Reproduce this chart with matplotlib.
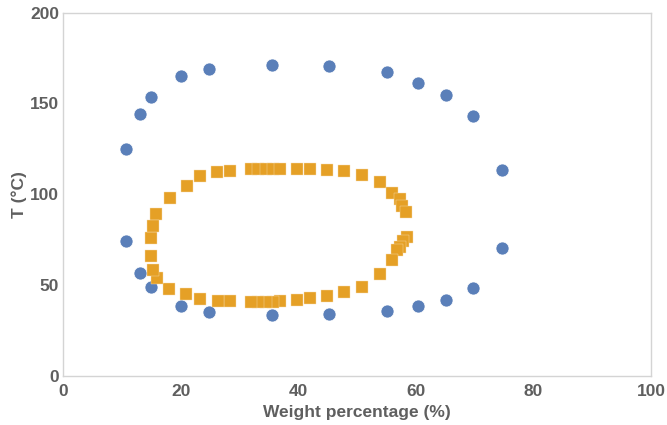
import matplotlib
matplotlib.use("Agg")
from matplotlib import pyplot as plt

# outer curve (blue circles)
blue_x = [10.7, 13.0, 14.9, 20.0, 24.8, 35.5, 45.2, 55.1, 60.3, 65.1, 69.7, 74.6,
          74.6, 69.7, 65.1, 60.3, 55.1, 45.2, 35.5, 24.8, 20.0, 14.9, 13.0, 10.7]
blue_y = [125.0, 144.3, 153.6, 165.2, 169.0, 171.3, 170.7, 167.4, 161.3, 154.8, 143.2, 113.4,
          70.5, 48.5, 41.9, 38.5, 35.8, 34.1, 33.6, 35.2, 38.5, 49.0, 56.7, 74.3]

# inner curve (orange squares)
orange_x = [15.8, 18.1, 21.0, 23.3, 26.2, 28.4, 32.0, 33.2, 34.4, 35.6, 36.8, 39.8, 41.9,
            44.8, 47.8, 50.9, 53.9, 55.9, 57.3, 57.7, 58.3,
            58.4, 57.8, 57.3, 56.8, 55.9, 53.9, 50.9, 47.8, 44.8, 41.9, 39.8,
            36.8, 35.6, 34.4, 33.2, 32.0, 28.4, 26.3, 23.3, 20.9, 18.0,
            15.9, 15.3, 14.9, 14.9, 15.3]
orange_y = [89.2, 97.7, 104.4, 110.3, 112.2, 113.1, 114.0, 114.1, 114.1, 114.1, 114.0, 113.9, 113.9,
            113.4, 112.9, 110.7, 106.7, 100.6, 97.3, 93.6, 90.0,
            76.7, 74.5, 71.2, 69.4, 63.9, 56.0, 49.2, 46.1, 44.0, 42.8, 41.6,
            41.2, 41.0, 41.0, 41.0, 41.0, 41.5, 41.5, 42.2, 45.0, 48.1,
            53.8, 58.6, 66.1, 76.0, 82.6]

x_ticks = [0, 20, 40, 60, 80, 100]
y_ticks = [0, 50, 100, 150, 200]

plt.rcParams['font.family'] = ['Liberation Sans', 'DejaVu Sans']
txt_color = '#5f5f5f'

fig = plt.figure(figsize=(6.67, 4.25), dpi=100)
ax = fig.add_axes([0.095, 0.1153, 0.881, 0.855])

ax.scatter(blue_x, blue_y, s=88, marker='o', color='#5a7fb9',
           edgecolors='white', linewidths=0.5, zorder=3)
ax.scatter(orange_x, orange_y, s=72, marker='s', color='#e5a026',
           edgecolors='#f6dcae', linewidths=0.3, zorder=3)

ax.set_xlim(0, 100)
ax.set_ylim(0, 200)
ax.set_xticks(x_ticks)
ax.set_yticks(y_ticks)
ax.tick_params(length=0, labelsize=12.5, labelcolor=txt_color)
ax.tick_params(axis='x', pad=6)
ax.tick_params(axis='y', pad=3)
for lab in ax.get_xticklabels() + ax.get_yticklabels():
    lab.set_fontweight('bold')
for sp in ax.spines.values():
    sp.set_color('#d4d4d4')
    sp.set_linewidth(1.0)

ax.set_xlabel("Weight percentage (%)", fontsize=12.5, fontweight='bold',
              color=txt_color, labelpad=4)
ax.set_ylabel("T (°C)", fontsize=12.5, fontweight='bold', color=txt_color, labelpad=2)

fig.savefig("out.png", dpi=100)
